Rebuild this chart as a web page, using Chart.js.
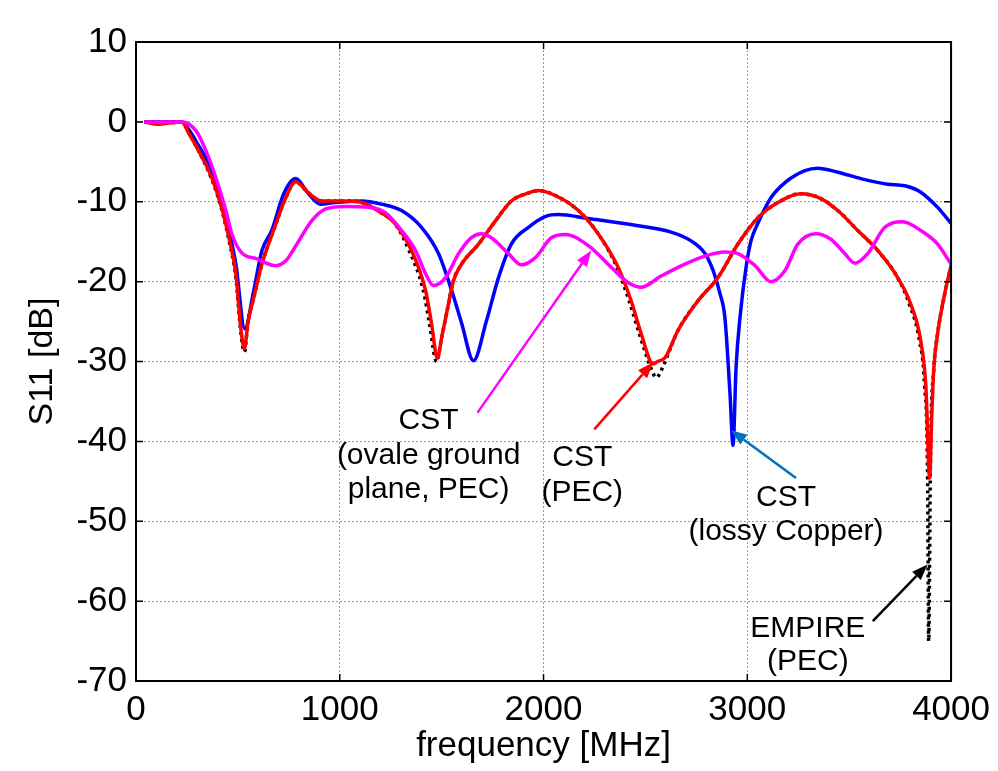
<!DOCTYPE html>
<html>
<head>
<meta charset="utf-8">
<script src="https://cdn.jsdelivr.net/npm/chart.js@4/dist/chart.umd.min.js"></script>
<style>
  html, body { margin: 0; padding: 0; background: #fff; }
  #wrap { width: 998px; height: 771px; }
</style>
</head>
<body>
<div id="wrap"><canvas id="chart" width="998" height="771"></canvas></div>
<script>
// x ticks and y ticks
const xTicks = [0, 1000, 2000, 3000, 4000];
const yTicks = [10, 0, -10, -20, -30, -40, -50, -60, -70];

// CST (lossy Copper)
const blueF = [40, 225, 260, 294, 372, 423, 456, 490, 534, 578, 618, 666, 725, 783, 847, 905, 978, 1108, 1205, 1303, 1401, 1485, 1549, 1598, 1656, 1720, 1779, 1842, 1926, 2014, 2072, 2220, 2464, 2626, 2724, 2793, 2832, 2866, 2890, 2915, 2930, 2945, 2964, 2994, 3018, 3052, 3116, 3185, 3283, 3346, 3444, 3557, 3689, 3773, 3851, 3934, 4000];
const blueV = [0, 0, -1, -2.4, -6.1, -10.3, -13.6, -17.8, -25.9, -21.1, -16.1, -13.6, -9.0, -7.1, -9.0, -10.3, -10.1, -9.9, -10.3, -11.1, -13.2, -16.5, -21.1, -25.2, -29.9, -24.9, -19.5, -15.3, -13.2, -11.8, -11.6, -12.1, -13.0, -13.8, -14.9, -16.5, -18.6, -21.5, -24.5, -34, -40.5, -30.7, -24.5, -18.2, -14.9, -12.7, -9.5, -7.6, -6.1, -5.8, -6.3, -7.1, -7.8, -8.0, -8.8, -10.7, -12.7];

// CST (PEC)
const redF = [40, 100, 225, 260, 294, 372, 423, 456, 490, 515, 532, 550, 578, 618, 686, 735, 783, 847, 911, 1027, 1108, 1205, 1273, 1352, 1421, 1450, 1479, 1500, 1524, 1558, 1598, 1681, 1764, 1842, 1926, 1975, 2072, 2171, 2268, 2366, 2430, 2479, 2538, 2560, 2597, 2660, 2758, 2856, 2954, 3052, 3150, 3263, 3361, 3444, 3542, 3640, 3738, 3802, 3851, 3876, 3895, 3905, 3915, 3934, 3969, 4000];
const redV = [0, -0.3, 0, -1.5, -3, -7, -11, -14.5, -19, -26, -28.4, -25, -22, -17.8, -12.8, -9.5, -7.5, -8.9, -9.9, -9.9, -10.1, -11.4, -12.8, -16.1, -21.1, -25.2, -29.6, -27, -24, -19.9, -17.8, -15.3, -12.4, -9.9, -8.9, -8.6, -9.4, -11.1, -14, -18.2, -22.4, -26.5, -30.3, -30, -29.5, -26.1, -22.4, -19.5, -15.3, -12, -10.1, -9, -9.6, -11.1, -13.6, -16.1, -19.5, -22.8, -27.4, -33, -44.6, -37, -31, -26.5, -21.5, -18];

// EMPIRE (PEC)
const empF = [40, 225, 294, 372, 423, 456, 490, 515, 532, 550, 578, 618, 686, 735, 783, 847, 911, 1027, 1108, 1205, 1273, 1340, 1410, 1440, 1475, 1500, 1524, 1558, 1598, 1681, 1764, 1842, 1926, 1975, 2072, 2171, 2268, 2360, 2420, 2470, 2530, 2553, 2580, 2620, 2660, 2758, 2856, 2954, 3052, 3150, 3263, 3361, 3444, 3542, 3640, 3738, 3795, 3845, 3870, 3885, 3890, 3900, 3915, 3934, 3969, 4000];
const empV = [0, 0, -3, -7.2, -11.2, -14.8, -19.5, -26.5, -28.8, -25, -22, -17.8, -12.8, -9.5, -7.5, -8.9, -9.9, -9.9, -10.1, -11.4, -12.8, -16.1, -21.1, -25.2, -30, -27, -24, -19.9, -17.8, -15.3, -12.4, -9.9, -8.9, -8.6, -9.4, -11.1, -14, -18.2, -22.4, -26.5, -31, -32, -31, -28.5, -26.1, -22.4, -19.5, -15.3, -12, -10.1, -9, -9.6, -11.1, -13.6, -16.1, -19.5, -22.8, -27.4, -33, -45, -65, -40, -31, -26.5, -21.5, -18];

// CST (ovale ground plane, PEC)
const magF = [40, 225, 294, 343, 392, 441, 470, 519, 588, 686, 735, 799, 862, 931, 1029, 1142, 1225, 1303, 1372, 1421, 1460, 1519, 1583, 1646, 1695, 1744, 1828, 1891, 1960, 2038, 2107, 2220, 2332, 2415, 2479, 2577, 2694, 2793, 2890, 2954, 3038, 3116, 3185, 3248, 3337, 3410, 3479, 3528, 3591, 3675, 3763, 3851, 3934, 4000];
const magV = [0, 0, -1.1, -3.6, -7, -11.1, -14, -16.4, -17.1, -18, -17.4, -14.9, -12.4, -10.9, -10.6, -10.7, -11.4, -13.6, -16.1, -19, -20.5, -19.5, -16.5, -14.5, -14, -14.5, -16.5, -17.9, -17, -14.5, -14.1, -15.5, -18.2, -20.1, -20.7, -19.3, -17.8, -16.8, -16.3, -16.5, -18, -20, -18.6, -15.3, -14, -14.7, -16.5, -17.7, -16.5, -13.2, -12.5, -13.6, -15.3, -17.8];

// text labels with arrows (data coordinates)
const notes = [
  { lines: ['CST', '(ovale ground', 'plane, PEC)'], x: 1436, y: [-37.4, -41.8, -46.1], color: '#ff00ff', from: [1676, -36.4], to: [2234, -16.1] },
  { lines: ['CST', '(PEC)'], x: 2190, y: [-42, -46.4], color: '#ff0000', from: [2249, -38.5], to: [2538, -30.1] },
  { lines: ['CST', '(lossy Copper)'], x: 3190, y: [-47, -51.3], color: '#0070c0', from: [3239, -44.6], to: [2920, -38.6] },
  { lines: ['EMPIRE', '(PEC)'], x: 3297, y: [-63.4, -67.6], color: '#000000', from: [3616, -62.5], to: [3885, -55.4] }
];

function pts(fs, vs) {
  return fs.map((f, i) => ({ x: f, y: vs[i] }));
}

const FONT = 'Liberation Sans, Arial, sans-serif';

// box + inward ticks + arrows/labels
const decorPlugin = {
  id: 'decor',
  afterDraw(chart) {
    const ctx = chart.ctx;
    const a = chart.chartArea;
    const xs = chart.scales.x, ys = chart.scales.y;
    ctx.save();
    ctx.strokeStyle = '#000';
    ctx.lineWidth = 1.5;
    xTicks.forEach(t => {
      const px = xs.getPixelForValue(t);
      ctx.beginPath();
      ctx.moveTo(px, a.bottom); ctx.lineTo(px, a.bottom - 7);
      ctx.moveTo(px, a.top); ctx.lineTo(px, a.top + 7);
      ctx.stroke();
    });
    yTicks.forEach(t => {
      const py = ys.getPixelForValue(t);
      ctx.beginPath();
      ctx.moveTo(a.left, py); ctx.lineTo(a.left + 7, py);
      ctx.moveTo(a.right, py); ctx.lineTo(a.right - 7, py);
      ctx.stroke();
    });
    ctx.lineWidth = 2;
    ctx.strokeRect(a.left, a.top, a.right - a.left, a.bottom - a.top);

    notes.forEach(n => {
      const x0 = xs.getPixelForValue(n.from[0]), y0 = ys.getPixelForValue(n.from[1]);
      const x1 = xs.getPixelForValue(n.to[0]), y1 = ys.getPixelForValue(n.to[1]);
      const ang = Math.atan2(y1 - y0, x1 - x0);
      const hl = 16, hw = 6;
      const bx = x1 - hl * Math.cos(ang), by = y1 - hl * Math.sin(ang);
      ctx.strokeStyle = n.color;
      ctx.fillStyle = n.color;
      ctx.lineWidth = 2.5;
      ctx.beginPath();
      ctx.moveTo(x0, y0); ctx.lineTo(bx, by);
      ctx.stroke();
      ctx.beginPath();
      ctx.moveTo(x1, y1);
      ctx.lineTo(bx + hw * Math.sin(ang), by - hw * Math.cos(ang));
      ctx.lineTo(bx - hw * Math.sin(ang), by + hw * Math.cos(ang));
      ctx.closePath();
      ctx.fill();

      ctx.fillStyle = '#000';
      ctx.font = '30px ' + FONT;
      ctx.textAlign = 'center';
      ctx.textBaseline = 'middle';
      const tx = xs.getPixelForValue(n.x);
      n.lines.forEach((s, i) => ctx.fillText(s, tx, ys.getPixelForValue(n.y[i])));
    });
    ctx.restore();
  }
};

const ctx = document.getElementById('chart').getContext('2d');
new Chart(ctx, {
  type: 'line',
  data: {
    datasets: [
      { label: 'CST (lossy Copper)', data: pts(blueF, blueV), borderColor: '#0000ff', borderWidth: 3.5, order: 4 },
      { label: 'EMPIRE (PEC)', data: pts(empF, empV), borderColor: '#000000', borderWidth: 3.5, borderDash: [3, 4], order: 3 },
      { label: 'CST (PEC)', data: pts(redF, redV), borderColor: '#ff0000', borderWidth: 3.5, order: 2 },
      { label: 'CST (ovale ground plane, PEC)', data: pts(magF, magV), borderColor: '#ff00ff', borderWidth: 3.5, order: 1 }
    ]
  },
  options: {
    responsive: false,
    animation: false,
    parsing: false,
    elements: {
      point: { radius: 0 },
      line: { cubicInterpolationMode: 'monotone', fill: false }
    },
    layout: { padding: { top: 42, right: 45, left: 22, bottom: 0 } },
    plugins: {
      legend: { display: false },
      tooltip: { enabled: false }
    },
    scales: {
      x: {
        type: 'linear',
        min: 0, max: 4000,
        afterBuildTicks: s => { s.ticks = xTicks.map(v => ({ value: v })); },
        afterFit: s => { s.height = 90; },
        grid: { color: '#9a9a9a', lineWidth: 1, drawTicks: false },
        border: { display: false, dash: [2, 2] },
        ticks: { color: '#000', font: { family: FONT, size: 35 }, padding: 8, maxRotation: 0, callback: v => String(v) },
        title: { display: true, text: 'frequency [MHz]', color: '#000', font: { family: FONT, size: 35 }, padding: { top: 0, bottom: 4 } }
      },
      y: {
        type: 'linear',
        min: -70, max: 10,
        afterBuildTicks: s => { s.ticks = yTicks.map(v => ({ value: v })); },
        afterFit: s => { s.width = 114; },
        grid: { color: '#9a9a9a', lineWidth: 1, drawTicks: false },
        border: { display: false, dash: [2, 2] },
        ticks: { color: '#000', font: { family: FONT, size: 35 }, padding: 9, callback: v => String(v) },
        title: { display: true, text: 'S11 [dB]', color: '#000', font: { family: FONT, size: 34 }, padding: { top: 0, bottom: 4 } }
      }
    }
  },
  plugins: [decorPlugin]
});
</script>
</body>
</html>
